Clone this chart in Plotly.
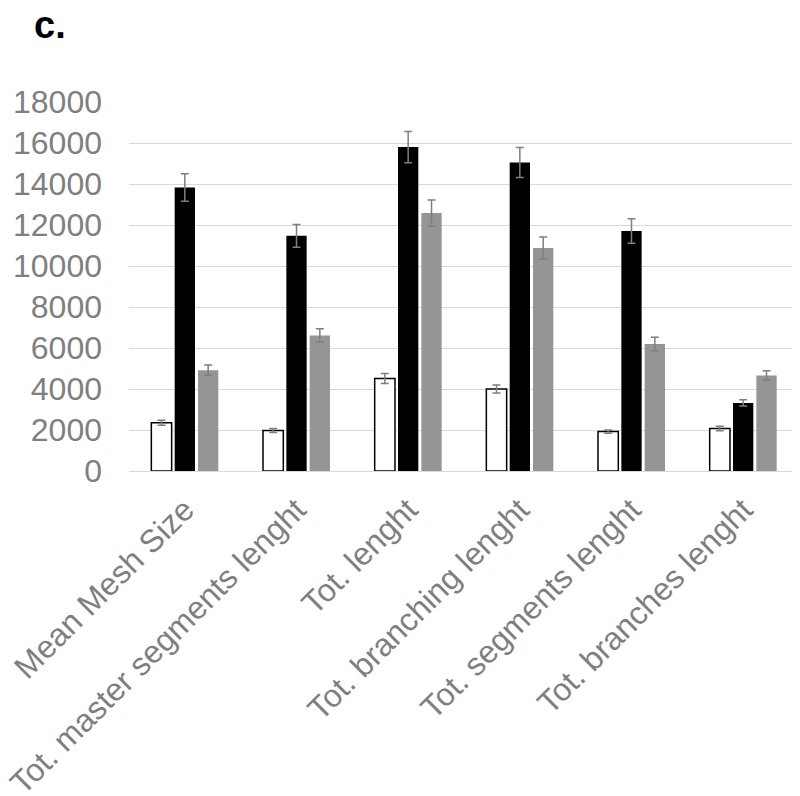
import plotly.graph_objects as go

categories = ["Mean Mesh Size", "Tot. master segments lenght", "Tot. lenght",
              "Tot. branching lenght", "Tot. segments lenght", "Tot. branches lenght"]
white_vals = [2350, 1975, 4515, 4005, 1925, 2070]
white_err = [120, 100, 245, 195, 80, 110]
black_vals = [13830, 11470, 15800, 15050, 11710, 3320]
black_err = [670, 550, 760, 730, 600, 150]
gray_vals = [4920, 6615, 12580, 10880, 6190, 4660]
gray_err = [245, 320, 635, 540, 330, 225]
y_ticks = [0, 2000, 4000, 6000, 8000, 10000, 12000, 14000, 16000, 18000]

err_style = dict(type="data", visible=True, color="#7f7f7f", thickness=1.5, width=4)

fig = go.Figure()
fig.add_trace(go.Bar(x=categories, y=white_vals, name="A",
                     marker=dict(color="white", line=dict(color="black", width=1.5)),
                     error_y=dict(array=white_err, **err_style)))
fig.add_trace(go.Bar(x=categories, y=black_vals, name="B",
                     marker=dict(color="black", line=dict(width=0)),
                     error_y=dict(array=black_err, **err_style)))
fig.add_trace(go.Bar(x=categories, y=gray_vals, name="C",
                     marker=dict(color="#959595", line=dict(width=0)),
                     error_y=dict(array=gray_err, **err_style)))

fig.update_layout(
    width=800, height=796,
    margin=dict(l=121, r=9, t=94, b=333, autoexpand=False),
    paper_bgcolor="white", plot_bgcolor="white",
    barmode="group", bargap=0.373, bargroupgap=0.13,
    showlegend=False,
    font=dict(family="Liberation Sans, Arial, sans-serif", color="#7f7f7f", size=32),
)
fig.update_yaxes(range=[0, 18000], tickvals=y_ticks, ticktext=[str(v) for v in y_ticks],
                 showgrid=True, gridcolor="#d9d9d9", gridwidth=1.3,
                 zeroline=False, showline=False, ticklabelstandoff=26,
                 tickfont=dict(size=32, color="#7f7f7f"))
fig.update_xaxes(tickangle=-45, showline=True, linecolor="#d9d9d9", linewidth=1.3,
                 tickfont=dict(size=32, color="#7f7f7f"), ticks="", ticklabelstandoff=6)

fig.add_annotation(text="<b>c.</b>", xref="paper", yref="paper", x=-0.145, y=1.146,
                   xanchor="left", yanchor="bottom", showarrow=False,
                   font=dict(size=38, color="black", family="Liberation Sans, Arial, sans-serif"))

fig.write_html("out.html")
